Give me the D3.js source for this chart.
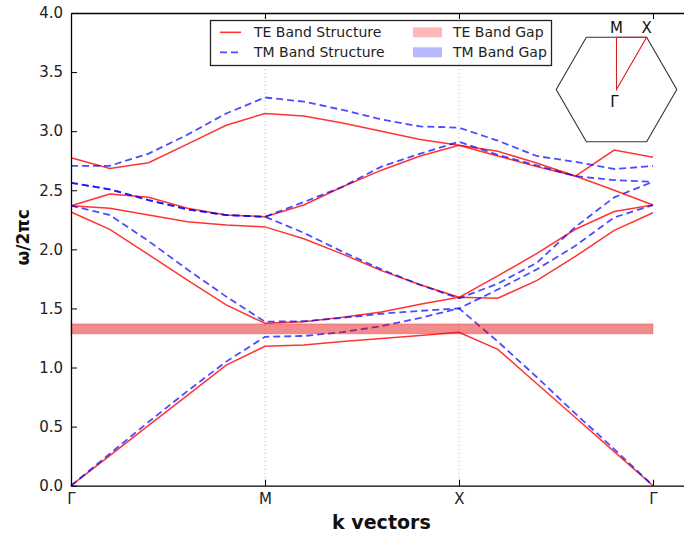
<!DOCTYPE html>
<html><head><meta charset="utf-8">
<script src="https://cdn.jsdelivr.net/npm/d3@7"></script>
<style>
body{margin:0;background:#fff}
svg{display:block}
text{font-family:"DejaVu Sans",sans-serif}
</style>
</head><body>
<svg id="c" width="684" height="538"></svg>
<script>
// ---- data ----
const kPoints = [0, 0.2, 0.4, 0.6, 0.8, 1.0, 1.2, 1.4, 1.6, 1.8, 2.0, 2.2, 2.4, 2.6, 2.8, 3.0];
const kTicks = [0, 1, 2, 3];
const kLabels = ["Γ", "M", "X", "Γ"];
const yTicks = [0, 0.5, 1.0, 1.5, 2.0, 2.5, 3.0, 3.5, 4.0];

const te1 = [0, 0.255, 0.51, 0.765, 1.02, 1.18, 1.19, 1.22, 1.245, 1.27, 1.298, 1.154, 0.865, 0.577, 0.288, 0];
const te2 = [2.316, 2.169, 1.955, 1.74, 1.53, 1.374, 1.388, 1.425, 1.47, 1.535, 1.594, 1.587, 1.735, 1.94, 2.16, 2.31];
const te3 = [2.369, 2.347, 2.29, 2.234, 2.206, 2.19, 2.09, 1.96, 1.82, 1.70, 1.594, 1.775, 1.964, 2.17, 2.32, 2.375];
const te4 = [2.369, 2.468, 2.44, 2.347, 2.29, 2.276, 2.375, 2.53, 2.67, 2.79, 2.88, 2.79, 2.70, 2.62, 2.50, 2.375];
const te5 = [2.775, 2.685, 2.733, 2.89, 3.05, 3.15, 3.128, 3.07, 3.00, 2.93, 2.88, 2.83, 2.73, 2.62, 2.84, 2.78];

const tm1 = [0, 0.27, 0.54, 0.80, 1.05, 1.26, 1.267, 1.30, 1.35, 1.42, 1.50, 1.22, 0.92, 0.61, 0.31, 0];
const tm2 = [2.37, 2.29, 2.07, 1.83, 1.60, 1.388, 1.392, 1.42, 1.455, 1.48, 1.50, 1.66, 1.83, 2.03, 2.27, 2.375];
const tm3 = [2.563, 2.508, 2.417, 2.338, 2.29, 2.276, 2.14, 1.98, 1.83, 1.70, 1.585, 1.71, 1.885, 2.19, 2.44, 2.572];
const tm4 = [2.563, 2.508, 2.417, 2.338, 2.29, 2.276, 2.40, 2.53, 2.70, 2.81, 2.91, 2.80, 2.71, 2.62, 2.586, 2.572];
const tm5 = [2.707, 2.707, 2.81, 2.97, 3.15, 3.285, 3.25, 3.18, 3.10, 3.04, 3.03, 2.92, 2.79, 2.74, 2.68, 2.705];

const teBands = [te1, te2, te3, te4, te5];
const tmBands = [tm1, tm2, tm3, tm4, tm5];
const teGap = [1.285, 1.37];

// ---- layout ----
const svg = d3.select("#c");
const x = d3.scaleLinear().domain([0, 3.2]).range([71, 691.8]);
const y = d3.scaleLinear().domain([0, 4]).range([485.7, 13]);

// grid (vertical dotted at M and X)
svg.append("g").selectAll("line").data([1, 2]).join("line")
  .attr("x1", d => x(d)).attr("x2", d => x(d))
  .attr("y1", y(4)).attr("y2", y(0))
  .attr("stroke", "#b8b8b8").attr("stroke-width", 1).attr("stroke-dasharray", "1,3");

const line = d3.line().x((d, i) => x(kPoints[i])).y(d => y(d));

svg.append("g").selectAll("path").data(teBands).join("path")
  .attr("d", line).attr("fill", "none")
  .attr("stroke", "#ff0000").attr("stroke-opacity", 0.8).attr("stroke-width", 1.5);

svg.append("g").selectAll("path").data(tmBands).join("path")
  .attr("d", line).attr("fill", "none")
  .attr("stroke", "#0000ff").attr("stroke-opacity", 0.7).attr("stroke-width", 1.8)
  .attr("stroke-dasharray", "7,4");

// TE gap
svg.append("rect")
  .attr("x", x(0)).attr("width", x(3) - x(0))
  .attr("y", y(teGap[1])).attr("height", y(teGap[0]) - y(teGap[1]))
  .attr("fill", "#e00000").attr("fill-opacity", 0.45)
  .attr("stroke", "#e00000").attr("stroke-opacity", 0.12).attr("stroke-width", 2);

// axes
const gy = svg.append("g").attr("transform", `translate(${x(0)},0)`)
  .call(d3.axisLeft(y).tickValues(yTicks).tickFormat(d3.format(".1f"))
        .tickSizeInner(-6).tickSizeOuter(0).tickPadding(8));
const gx = svg.append("g").attr("transform", `translate(0,${y(0)})`)
  .call(d3.axisBottom(x).tickValues(kTicks).tickFormat((d, i) => kLabels[i])
        .tickSizeInner(-6).tickSizeOuter(0).tickPadding(8));
const gt = svg.append("g").attr("transform", `translate(0,${y(4)})`)
  .call(d3.axisTop(x).tickValues(kTicks).tickFormat("")
        .tickSizeInner(-6).tickSizeOuter(0));
[gy, gx, gt].forEach(g => {
  g.select(".domain").attr("stroke", "#000").attr("stroke-width", 1.3);
  g.selectAll(".tick line").attr("stroke", "#000").attr("stroke-width", 1);
  g.selectAll("text").attr("font-size", 15).attr("fill", "#222")
    .attr("font-family", "DejaVu Sans");
});

// axis titles
svg.append("text").attr("x", x(1.6)).attr("y", 529)
  .attr("text-anchor", "middle").attr("font-weight", "bold").attr("font-size", 19)
  .attr("fill", "#111").text("k vectors");
svg.append("text").attr("transform", `translate(29,${(y(0) + y(4)) / 2 - 12}) rotate(-90)`)
  .attr("text-anchor", "middle").attr("font-weight", "bold").attr("font-size", 17)
  .attr("fill", "#111").text("ω/2πc");

// legend
const lg = svg.append("g");
lg.append("rect").attr("x", 210.5).attr("y", 20.5).attr("width", 341).attr("height", 45)
  .attr("fill", "#fff").attr("stroke", "#222").attr("stroke-width", 1.3);
const rows = [32.3, 52.3];
lg.append("line").attr("x1", 220).attr("x2", 241).attr("y1", rows[0]).attr("y2", rows[0])
  .attr("stroke", "#ff0000").attr("stroke-opacity", 0.8).attr("stroke-width", 1.5);
lg.append("line").attr("x1", 220).attr("x2", 241).attr("y1", rows[1]).attr("y2", rows[1])
  .attr("stroke", "#0000ff").attr("stroke-opacity", 0.7).attr("stroke-width", 1.8)
  .attr("stroke-dasharray", "7,4");
lg.append("rect").attr("x", 413).attr("y", rows[0] - 5).attr("width", 29).attr("height", 10)
  .attr("fill", "#ff0000").attr("fill-opacity", 0.28);
lg.append("rect").attr("x", 413).attr("y", rows[1] - 5).attr("width", 29).attr("height", 10)
  .attr("fill", "#0000ff").attr("fill-opacity", 0.28);
const legTexts = [["TE Band Structure", 254, rows[0]], ["TM Band Structure", 254, rows[1]],
                  ["TE Band Gap", 453, rows[0]], ["TM Band Gap", 453, rows[1]]];
lg.selectAll("text.l").data(legTexts).join("text").attr("class", "l")
  .attr("x", d => d[1]).attr("y", d => d[2]).attr("dy", "0.35em")
  .attr("font-size", 14).attr("fill", "#222").text(d => d[0]);

// inset: hexagonal Brillouin zone
const cx = 616.5, cy = 89.5, R = 60.3;
const hex = d3.range(6).map(j => [cx + R * Math.cos(j * Math.PI / 3), cy + R * Math.sin(j * Math.PI / 3)]);
svg.append("path").attr("d", d3.line()(hex) + "Z").attr("fill", "none")
  .attr("stroke", "#333").attr("stroke-width", 1.1);
const hY = cy - R * Math.sqrt(3) / 2;
const tri = [[cx, cy], [cx, hY], [cx + R / 2, hY]];
svg.append("path").attr("d", d3.line()(tri) + "Z").attr("fill", "none")
  .attr("stroke", "#d62020").attr("stroke-width", 1.1);
svg.append("text").attr("x", cx).attr("y", hY - 4.5).attr("text-anchor", "middle")
  .attr("font-size", 15).attr("fill", "#111").text("M");
svg.append("text").attr("x", cx + R / 2).attr("y", hY - 4.5).attr("text-anchor", "middle")
  .attr("font-size", 15).attr("fill", "#111").text("X");
svg.append("text").attr("x", cx - 2).attr("y", cy + 17.5).attr("text-anchor", "middle")
  .attr("font-size", 15).attr("fill", "#111").text("Γ");
</script>
</body></html>
